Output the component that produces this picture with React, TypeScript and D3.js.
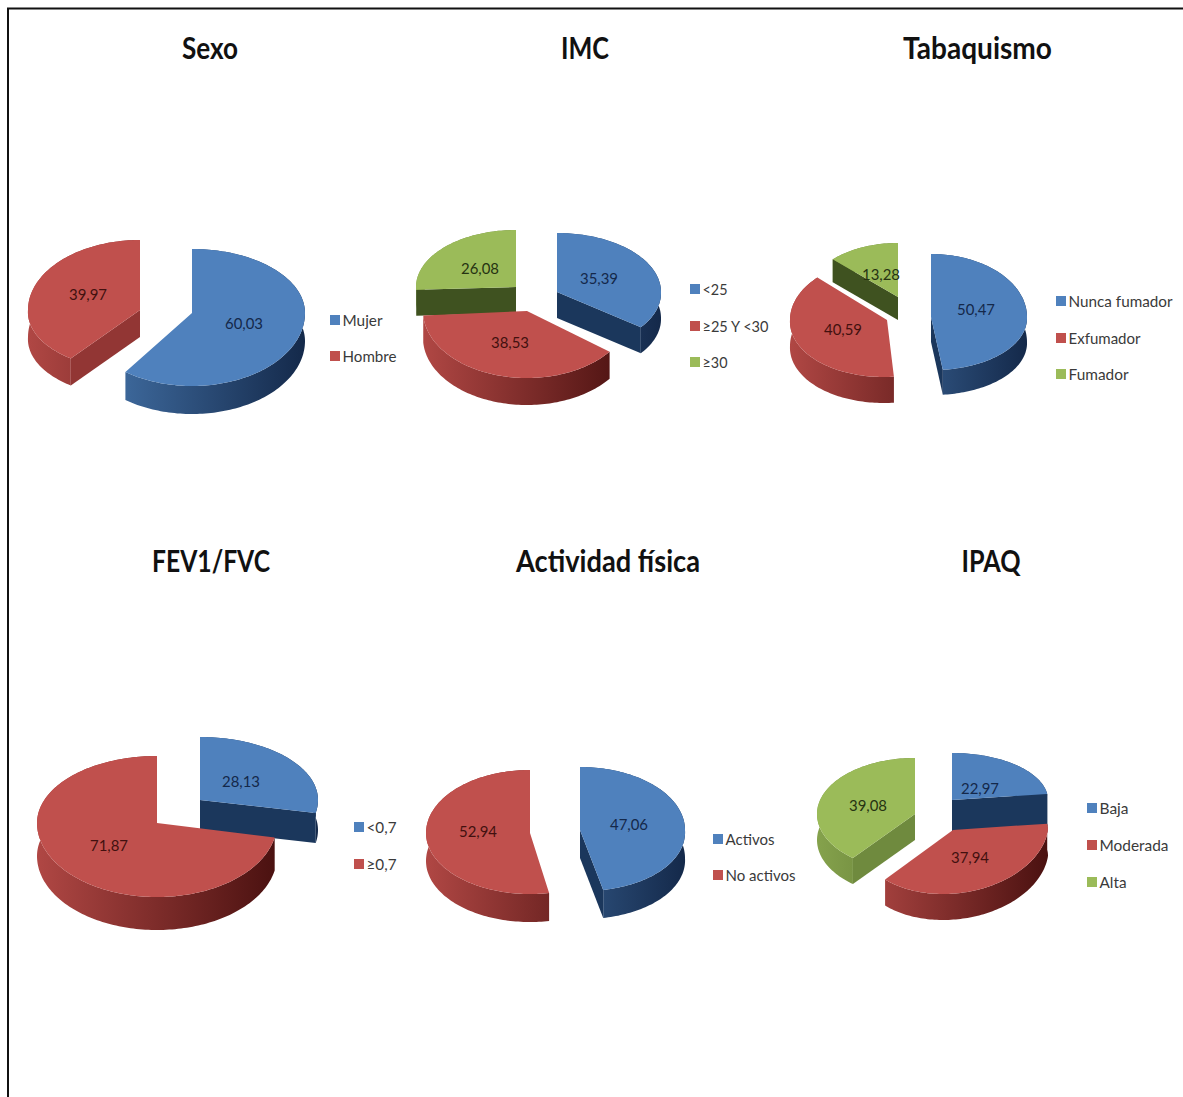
import React from "react";
import * as d3 from "d3";

const WIDTH = 1183;
const HEIGHT = 1097;
const FONT = "Lato, 'Open Sans', sans-serif";

// Values, in series order
const sexoValues = [60.03, 39.97];
const imcValues = [35.39, 38.53, 26.08];
const tabaquismoValues = [50.47, 40.59, 13.28];
const fevValues = [28.13, 71.87];
const actividadValues = [47.06, 52.94];
const ipaqValues = [22.97, 37.94, 39.08];

const sexoCategories = ["Mujer", "Hombre"];
const imcCategories = ["<25", "≥25 Y <30", "≥30"];
const tabaquismoCategories = ["Nunca fumador", "Exfumador", "Fumador"];
const fevCategories = ["<0,7", "≥0,7"];
const actividadCategories = ["Activos", "No activos"];
const ipaqCategories = ["Baja", "Moderada", "Alta"];

type Hue = { top: string; cut: string; cutLit: string; wallLight: string; wallDark: string; text: string };

const HUES: Hue[] = [
  { top: "#4f81bd", cut: "#1b375c", cutLit: "#2f5a8e", wallLight: "#4676ad", wallDark: "#14294a", text: "#14284a" },
  { top: "#c0504d", cut: "#6e1f1d", cutLit: "#923634", wallLight: "#b04744", wallDark: "#4a1110", text: "#42100f" },
  { top: "#9bbb59", cut: "#3f5220", cutLit: "#6f8a3e", wallLight: "#85a24c", wallDark: "#445a22", text: "#263312" },
];

// Projection of one exploded slice: apex offset from the pie centre, ellipse
// radii behind and in front of the apex, extrusion depth and perspective lean.
type Slice = {
  dx: number; dy: number; rx: number; ryB: number; ryF: number; depth: number;
  leanF?: number; labelX: number; labelY: number;
};

type Chart = {
  title: string; titleX: number; titleW: number; titleY: number;
  values: number[]; categories: string[];
  cx: number; cy: number;
  slices: Slice[];
  legendX: number; legendYs: number[]; legendW: number[];
};

const charts: Chart[] = [
  {
    title: "Sexo", titleX: 210, titleW: 56, titleY: 59,
    values: sexoValues, categories: sexoCategories, cx: 166, cy: 312,
    slices: [
      { dx: 26, dy: 1, rx: 113, ryB: 64, ryF: 73, depth: 28, labelX: 244, labelY: 323 },
      { dx: -26, dy: -2, rx: 112, ryB: 70, ryF: 60, depth: 27, leanF: -4, labelX: 88, labelY: 294 },
    ],
    legendX: 330, legendYs: [320, 356], legendW: [40, 54],
  },
  {
    title: "IMC", titleX: 585, titleW: 48, titleY: 59,
    values: imcValues, categories: imcCategories, cx: 535, cy: 300,
    slices: [
      { dx: 22, dy: -8, rx: 104, ryB: 59, ryF: 58, depth: 26, leanF: 2, labelX: 599, labelY: 278 },
      { dx: -8, dy: 11, rx: 104, ryB: 50, ryF: 67, depth: 27, labelX: 510, labelY: 342 },
      { dx: -19, dy: -13, rx: 100, ryB: 57, ryF: 40, depth: 26, labelX: 480, labelY: 268 },
    ],
    legendX: 690, legendYs: [289, 326, 362], legendW: [25, 66, 25],
  },
  {
    title: "Tabaquismo", titleX: 977.5, titleW: 149, titleY: 59,
    values: tabaquismoValues, categories: tabaquismoCategories, cx: 900, cy: 310,
    slices: [
      { dx: 31, dy: 7, rx: 96, ryB: 63, ryF: 53, depth: 25, leanF: 2, labelX: 976, labelY: 309 },
      { dx: -13, dy: 10, rx: 97, ryB: 61, ryF: 57, depth: 26, leanF: -3, labelX: 843, labelY: 329 },
      { dx: -2, dy: -13, rx: 91, ryB: 54, ryF: 50, depth: 23, labelX: 881, labelY: 274 },
    ],
    legendX: 1056, legendYs: [301, 338, 374], legendW: [104, 72, 60],
  },
  {
    title: "FEV1/FVC", titleX: 211, titleW: 118, titleY: 572,
    values: fevValues, categories: fevCategories, cx: 180, cy: 810,
    slices: [
      { dx: 20, dy: -10, rx: 118, ryB: 63, ryF: 66, depth: 30, labelX: 241, labelY: 781 },
      { dx: -23, dy: 13, rx: 120, ryB: 67, ryF: 74, depth: 33, labelX: 109, labelY: 845 },
    ],
    legendX: 354, legendYs: [827, 864], legendW: [30, 30],
  },
  {
    title: "Actividad física", titleX: 608, titleW: 184, titleY: 572,
    values: actividadValues, categories: actividadCategories, cx: 555, cy: 830,
    slices: [
      { dx: 25, dy: 0, rx: 105, ryB: 63, ryF: 61, depth: 28, leanF: 4, labelX: 629, labelY: 824 },
      { dx: -25, dy: 3, rx: 104, ryB: 63, ryF: 61, depth: 28, labelX: 478, labelY: 831 },
    ],
    legendX: 713, legendYs: [839, 875], legendW: [49, 70],
  },
  {
    title: "IPAQ", titleX: 991, titleW: 59, titleY: 572,
    values: ipaqValues, categories: ipaqCategories, cx: 935, cy: 815,
    slices: [
      { dx: 17, dy: -15, rx: 96, ryB: 47, ryF: 47, depth: 32, labelX: 980, labelY: 788 },
      { dx: 18, dy: 15, rx: 95, ryB: 50, ryF: 64, depth: 26, leanF: -10, labelX: 970, labelY: 857 },
      { dx: -20, dy: -1, rx: 98, ryB: 56, ryF: 57, depth: 26, labelX: 868, labelY: 805 },
    ],
    legendX: 1087, legendYs: [808, 845, 882], legendW: [29, 69, 27],
  },
];

// d3.pie normalises by the series total, which is what the slices are sized by.
const pieLayout = d3.pie<number>().sort(null).value((v) => v);
const outline = d3.line<[number, number]>();

function projector(chart: Chart, s: Slice) {
  const ax = chart.cx + s.dx;
  const ay = chart.cy + s.dy;
  return (angle: number): [number, number] => {
    const c = Math.cos(angle);
    const lean = c > 0 ? 0 : (s.leanF ?? 0) * -c;
    return [ax + s.rx * Math.sin(angle) + lean, ay - (c > 0 ? s.ryB : s.ryF) * c];
  };
}

function SliceMark({ chart, arc, s, hue, id }: {
  chart: Chart; arc: d3.PieArcDatum<number>; s: Slice; hue: Hue; id: string;
}) {
  const at = projector(chart, s);
  const ax = chart.cx + s.dx;
  const ay = chart.cy + s.dy;
  const apex: [number, number] = [ax, ay];
  const steps = Math.max(8, Math.ceil((arc.endAngle - arc.startAngle) * 40));
  const rim = d3.range(steps + 1).map((i) => at(arc.startAngle + ((arc.endAngle - arc.startAngle) * i) / steps));
  const sink = (p: [number, number]): [number, number] => [p[0], p[1] + s.depth];
  const wallShade = (angle: number) => {
    const deg = (angle * 180) / Math.PI;
    return deg > 180 && deg < 250 ? hue.cutLit : hue.cut;
  };
  const first = rim[0];
  const last = rim[rim.length - 1];
  // A cut face only shows when it turns towards the viewer.
  const showStart = arc.startAngle > Math.PI;
  const showEnd = arc.endAngle < Math.PI;
  return (
    <g>
      <defs>
        <linearGradient id={id} gradientUnits="userSpaceOnUse" x1={ax - s.rx} x2={ax + s.rx} y1={0} y2={0}>
          <stop offset="0" stopColor={hue.wallLight} />
          <stop offset="1" stopColor={hue.wallDark} />
        </linearGradient>
      </defs>
      <path d={outline([...rim, ...rim.slice().reverse().map(sink)])! + "Z"} fill={`url(#${id})`} />
      {showStart && <path d={outline([apex, first, sink(first), sink(apex)])! + "Z"} fill={wallShade(arc.startAngle)} />}
      {showEnd && <path d={outline([apex, last, sink(last), sink(apex)])! + "Z"} fill={wallShade(arc.endAngle)} />}
      <path d={outline([apex, ...rim])! + "Z"} fill={hue.top} />
    </g>
  );
}

function Pie({ chart, index }: { chart: Chart; index: number }) {
  const arcs = pieLayout(chart.values);
  // Painted back to front, so the slices nearest the viewer land on top.
  const order = d3.range(arcs.length).sort((a, b) =>
    d3.descending(
      Math.cos((arcs[a].startAngle + arcs[a].endAngle) / 2),
      Math.cos((arcs[b].startAngle + arcs[b].endAngle) / 2),
    ),
  );
  const label = (v: number) => v.toFixed(2).replace(".", ",");
  return (
    <g>
      <text x={chart.titleX} y={chart.titleY} textAnchor="middle" fontFamily={FONT} fontWeight={700}
        fontSize={31} fill="#111" textLength={chart.titleW} lengthAdjust="spacingAndGlyphs">
        {chart.title}
      </text>
      {order.map((j) => (
        <SliceMark key={j} chart={chart} arc={arcs[j]} s={chart.slices[j]} hue={HUES[j]} id={`wall-${index}-${j}`} />
      ))}
      {order.map((j) => (
        <text key={j} x={chart.slices[j].labelX} y={chart.slices[j].labelY} dy="0.35em" textAnchor="middle"
          fontFamily={FONT} fontSize={16} fill={HUES[j].text} textLength={38} lengthAdjust="spacingAndGlyphs">
          {label(chart.values[j])}
        </text>
      ))}
      {chart.categories.map((cat, j) => (
        <g key={cat}>
          <rect x={chart.legendX} y={chart.legendYs[j] - 5} width={10} height={10} fill={HUES[j].top} />
          <text x={chart.legendX + 12.5} y={chart.legendYs[j]} dy="0.35em" fontFamily={FONT} fontSize={16}
            fill="#3a3a3a" textLength={chart.legendW[j]} lengthAdjust="spacingAndGlyphs">
            {cat}
          </text>
        </g>
      ))}
    </g>
  );
}

export default function App() {
  return (
    <svg width={WIDTH} height={HEIGHT} viewBox={`0 0 ${WIDTH} ${HEIGHT}`}
      style={{ position: "absolute", left: 0, top: 0, background: "#fff", display: "block" }}>
      <path d={`M8 ${HEIGHT}V8.5H${WIDTH}`} fill="none" stroke="#111" strokeWidth={2} />
      {charts.map((chart, i) => (
        <Pie key={chart.title} chart={chart} index={i} />
      ))}
    </svg>
  );
}
